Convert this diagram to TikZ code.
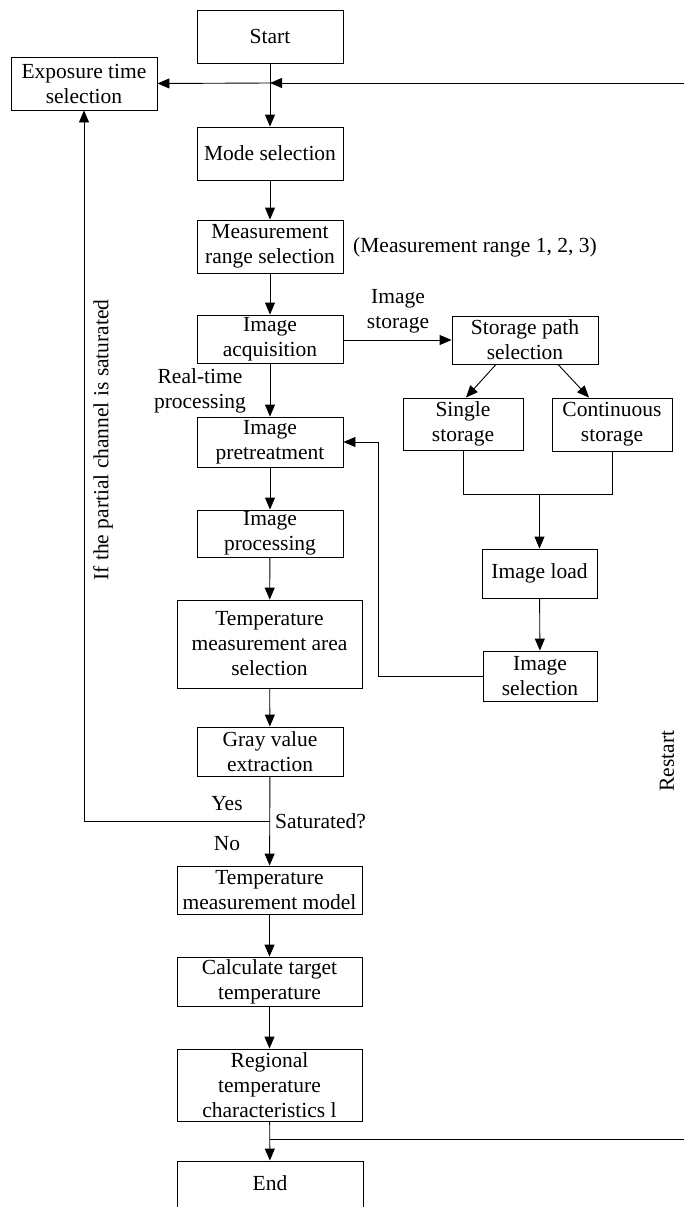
\documentclass[tikz,border=0pt]{standalone}
\usepackage{fontspec}
\setmainfont{Liberation Serif}
\usetikzlibrary{arrows.meta}
\begin{document}
\begin{tikzpicture}[x=1pt,y=-1pt,
  box/.style={draw, line width=0.9pt, inner sep=0pt, align=center, font=\fontsize{21.5}{25}\selectfont},
  lbl/.style={inner sep=0pt, align=center, font=\fontsize{21.5}{25}\selectfont},
  conn/.style={line width=0.9pt},
  arr/.style={line width=0.9pt, -{Triangle[length=12pt,width=10pt]}}]
\path[use as bounding box] (0,0) rectangle (684,1207);
\begin{scope}
\clip (0,0) rectangle (684,1207);
% boxes
\node[box, minimum width=146, minimum height=53] (start) at (270,36.5) {Start};
\node[box, minimum width=146, minimum height=53] (expo) at (84,83.5) {Exposure time\\selection};
\node[box, minimum width=146, minimum height=53] (mode) at (270,153.5) {Mode selection};
\node[box, minimum width=146, minimum height=53] (range) at (270,246.5) {Measurement\\range selection};
\node[box, minimum width=146, minimum height=48] (acq) at (270,339) {Image\\acquisition};
\node[box, minimum width=146, minimum height=48] (path) at (525,340) {Storage path\\selection};
\node[box, minimum width=146, minimum height=50] (pre) at (270,442) {Image\\pretreatment};
\node[box, minimum width=120, minimum height=52] (single) at (463,424) {Single\\storage};
\node[box, minimum width=120, minimum height=53] (cont) at (612,424.5) {Continuous\\storage};
\node[box, minimum width=146, minimum height=47] (proc) at (270,533.5) {Image\\processing};
\node[box, minimum width=185, minimum height=88] (area) at (269.5,644) {Temperature\\measurement area\\selection};
\node[box, minimum width=115, minimum height=49] (load) at (539.5,573.5) {Image load};
\node[box, minimum width=114, minimum height=50] (sel) at (540,676) {Image\\selection};
\node[box, minimum width=146, minimum height=49] (gray) at (270,751.5) {Gray value\\extraction};
\node[box, minimum width=185, minimum height=48] (model) at (269.5,890) {Temperature\\measurement model};
\node[box, minimum width=185, minimum height=49] (calc) at (269.5,981.5) {Calculate target\\temperature};
\node[box, minimum width=185, minimum height=72] (reg) at (269.5,1085) {Regional\\temperature\\characteristics l};
\node[box, minimum width=186, minimum height=51, text depth=0pt] (end) at (270,1186.5) {};
\node[lbl] (endtxt) at (270,1183) {End};
% labels
\node[lbl, anchor=west] (rangelbl) at (353,247) {(Measurement range 1, 2, 3)};
\node[lbl] (storelbl) at (398,311) {Image\\storage};
\node[lbl] (rtlbl) at (200,391) {Real-time\\processing};
\node[lbl] (yes) at (227,804) {Yes};
\node[lbl] (no) at (227,844) {No};
\node[lbl, anchor=west] (satlbl) at (275,821) {Saturated?};
\node[lbl, rotate=90] (iflbl) at (103,440) {If the partial channel is saturated};
\node[lbl, rotate=90] (restartlbl) at (667,761) {Restart};
% coordinates
\coordinate (j1) at (270,83);
\coordinate (sat) at (270,821);
\coordinate (satL) at (84,821);
\coordinate (rs) at (270,1139);
\coordinate (rsR) at (700,1139);
\coordinate (rtR) at (700,83);
\coordinate (sjL) at (463,494);
\coordinate (sjR) at (612,494);
\coordinate (sjM) at (539.5,494);
\coordinate (lp1) at (378,676);
\coordinate (lp2) at (378,442);
% connectors
\draw[arr] (start) -- (mode);
\draw[conn] (rs) -- (rsR) -- (rtR);
\draw[arr] (rtR) -- (j1);
\draw[arr] (j1) -- (expo.east);
\draw[arr] (mode) -- (range);
\draw[arr] (range) -- (acq);
\draw[arr] (acq.east |- path.west) -- (path.west);
\draw[arr] (acq) -- (pre);
\draw[arr] (path.south -| 496,0) -- (single.north -| 466,0);
\draw[arr] (path.south -| 558,0) -- (cont.north -| 589,0);
\draw[arr] (pre) -- (proc);
\draw[arr] (proc) -- (area);
\draw[arr] (area) -- (gray);
\draw[conn] (single.south) -- (sjL) -- (sjR) -- (cont.south);
\draw[arr] (sjM) -- (load);
\draw[arr] (load) -- (sel);
\draw[arr] (sel.west) -- (lp1) -- (lp2) -- (pre.east);
\draw[arr] (gray) -- (model);
\draw[arr] (sat) -- (satL) -- (expo.south -| satL);
\draw[arr] (model) -- (calc);
\draw[arr] (calc) -- (reg);
\draw[arr] (reg) -- (end);
\end{scope}
\end{tikzpicture}
\end{document}
